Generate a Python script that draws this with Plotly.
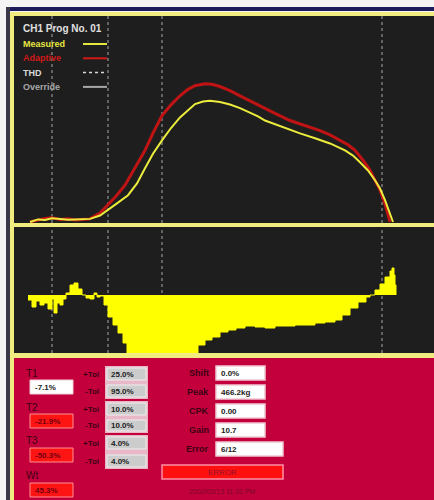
import plotly.graph_objects as go

# Measured force curve (time in ms, force in kg)
measured_t = [17, 25, 32, 39, 47, 55, 62, 69, 77, 87, 95, 105, 115, 124, 132, 140, 149, 158, 167, 175, 182,
              190, 197, 207, 217, 227, 237, 245, 252, 267, 287, 302, 317, 332, 340, 347, 355, 362, 367, 372, 377, 380]
measured_kg = [0, 10, 8, 14, 12, 9, 10, 10, 12, 25, 46, 75, 104, 150, 209, 265, 317, 365, 406, 435, 458,
               468, 471, 466, 456, 442, 425, 410, 394, 372, 344, 325, 305, 278, 258, 232, 200, 162, 130, 85, 35, 0]

# Adaptive reference curve
adaptive_t = [17, 25, 32, 39, 47, 55, 62, 69, 77, 87, 95, 103, 112, 122, 132, 140, 149, 158, 167, 175, 182,
              192, 199, 207, 217, 227, 237, 247, 262, 277, 292, 307, 317, 327, 335, 342, 350, 357, 362, 367, 372, 377]
adaptive_kg = [0, 8, 14, 16, 10, 12, 8, 10, 12, 35, 66, 100, 143, 210, 278, 345, 413, 455, 490, 515, 529,
               537, 535, 526, 510, 490, 470, 452, 422, 394, 374, 355, 338, 317, 300, 278, 240, 201, 165, 124, 70, 0]

# Difference curve (measured - adaptive)
diff_t = [15, 19, 23, 27, 31, 35, 39, 41, 44, 47, 50, 53, 57, 61, 65, 69, 73, 77, 81, 84,
          87, 91, 95, 100, 105, 110, 114, 122, 137, 152, 167, 179, 185, 192, 199, 207, 215, 223, 232, 242,
          252, 262, 272, 282, 292, 302, 312, 322, 329, 337, 345, 353, 357, 362, 367, 372, 377, 379, 381, 382, 383]
diff_val = [-5, -12, -6, -10, -8, -14, -4, -18, -8, -10, -4, 2, 10, 12, 6, 0, -3, -4, 2, -2,
            -1, -10, -22, -30, -38, -48, -58, -70, -80, -80, -75, -60, -50, -45, -42, -37, -35, -33, -31, -32,
            -33, -31, -31, -30, -30, -28, -27, -25, -20, -13, -7, -2, 0, 5, 11, 18, 24, 27, 20, 10, 0]

# Window marker positions (ms)
marker_t = [39, 95, 149, 369]

legend_names = ["Measured", "Adaptive", "THD", "Override"]
legend_colors = ["#e6e640", "#d01818", "#d8d8d8", "#a8a8a8"]
legend_dash = ["solid", "solid", "dot", "solid"]

t_names = ["T1", "T2", "T3", "Wt"]
t_values = ["-7.1%", "-21.9%", "-50.3%", "45.3%"]
t_status = ["ok", "bad", "bad", "bad"]
plus_tol = ["25.0%", "10.0%", "4.0%"]
minus_tol = ["95.0%", "10.0%", "4.0%"]
stat_names = ["Shift", "Peak", "CPK", "Gain", "Error"]
stat_values = ["0.0%", "466.2kg", "0.00", "10.7", "6/12"]
status_text = "ERROR"
timestamp = "2002/02/13 11:02 PM"

W, H = 434, 500
FONT = "Liberation Sans"
DARK = "#1e1e1e"
PANEL_RED = "#c4003c"
FRAME = "#f0ec80"


def fx(p):
    return p / W


def fy(p):
    return 1 - p / H


def rect(x0, y0, x1, y1, fill, line=None, lw=0, layer="below"):
    return dict(type="rect", xref="paper", yref="paper", x0=fx(x0), x1=fx(x1), y0=fy(y1), y1=fy(y0),
                fillcolor=fill, line=dict(color=line or fill, width=lw), layer=layer)


def label(x, y, text, color, size=9, anchor="left", bold=True):
    return dict(xref="paper", yref="paper", x=fx(x), y=fy(y), text=f"<b>{text}</b>" if bold else text,
                showarrow=False, xanchor=anchor, yanchor="middle",
                font=dict(family=FONT, size=size, color=color))


fig = go.Figure()

fig.add_trace(go.Scatter(x=adaptive_t, y=adaptive_kg, mode="lines", line=dict(color="#c01414", width=3),
                         xaxis="x", yaxis="y", hoverinfo="skip"))
fig.add_trace(go.Scatter(x=measured_t, y=measured_kg, mode="lines", line=dict(color="#ecec3c", width=2),
                         xaxis="x", yaxis="y", hoverinfo="skip"))
fig.add_trace(go.Scatter(x=diff_t, y=diff_val, mode="lines", line=dict(color="#ffff00", width=1, shape="hv"),
                         fill="tozeroy", fillcolor="#ffff00", xaxis="x2", yaxis="y2", hoverinfo="skip"))

shapes = [
    rect(6, 7, 434, 11, "#1c1c5c"),
    rect(6, 7, 10, 500, "#383848"),
    rect(14, 16, 434, 353, DARK),
    rect(14, 358, 434, 500, PANEL_RED),
]

# marker lines in both charts
for t in marker_t:
    for ya, y0, y1 in [("y", -4, 800), ("y2", -58, 68)]:
        shapes.append(dict(type="line", xref="x", yref=ya, x0=t, x1=t, y0=y0, y1=y1,
                           line=dict(color="#a8a8a8", width=1, dash="dot"), layer="below"))

# yellow frame
shapes += [
    rect(10, 12, 434, 16, FRAME, layer="above"),
    rect(10, 12, 14, 500, FRAME, layer="above"),
    rect(14, 223, 434, 227, FRAME, layer="above"),
    rect(14, 353, 434, 358, FRAME, layer="above"),
]

annotations = [label(21, 28, "CH1 Prog No. 01", "#e0e0e0", size=10)]
for i, (name, col, dash) in enumerate(zip(legend_names, legend_colors, legend_dash)):
    y = 44 + i * 14.3
    annotations.append(label(21, y, name, col, size=9))
    shapes.append(dict(type="line", xref="paper", yref="paper", x0=fx(83), x1=fx(107), y0=fy(y), y1=fy(y),
                       line=dict(color=col, width=2 if dash == "solid" else 1.5, dash=dash), layer="above"))

# tolerance panel
lab_col = "#3c0014"
t_rows = [(373, 387), (407, 421), (440, 455), (475, 490)]
tol_rows = [(368, 380, 385, 397), (403, 415, 420, 431), (437, 449, 455, 467)]
for i, name in enumerate(t_names):
    ly, by = t_rows[i]
    annotations.append(label(24, ly, name, lab_col, size=10, bold=False))
    if t_status[i] == "ok":
        shapes.append(rect(30, by - 7, 73, by + 7, "#ffffff", "#f0d0d8", 1, layer="above"))
        annotations.append(label(33, by, t_values[i], "#202020", size=8))
    else:
        shapes.append(rect(30, by - 7, 73, by + 7, "#ff1414", "#ff9090", 1, layer="above"))
        annotations.append(label(33, by, t_values[i], "#700010", size=8))
for i in range(3):
    a0, a1, b0, b1 = tol_rows[i]
    shapes.append(rect(105, a0 - 2, 148, b1 + 2, "#e8b8c8", layer="above"))
    shapes.append(rect(107, a0, 146, a1, "#cccccc", "#eeeeee", 1, layer="above"))
    shapes.append(rect(107, b0, 146, b1, "#cccccc", "#eeeeee", 1, layer="above"))
    annotations.append(label(109, (a0 + a1) / 2, plus_tol[i], "#202020", size=8))
    annotations.append(label(109, (b0 + b1) / 2, minus_tol[i], "#202020", size=8))
    annotations.append(label(101, (a0 + a1) / 2, "+Tol", lab_col, size=8, anchor="right"))
    annotations.append(label(101, (b0 + b1) / 2, "-Tol", lab_col, size=8, anchor="right"))

stat_y = [373, 392, 411, 430, 449]
for i, (name, val) in enumerate(zip(stat_names, stat_values)):
    y = stat_y[i]
    right = 283 if i == len(stat_names) - 1 else 265
    shapes.append(rect(216, y - 7, right, y + 7, "#ffffff", "#f0c8d4", 1.5, layer="above"))
    annotations.append(label(211, y, name, lab_col, size=9, anchor="right"))
    annotations.append(label(219, y, val, "#202020", size=8))

shapes.append(rect(162, 465, 283, 479, "#ff1010", "#ff8fa8", 1.5, layer="above"))
annotations.append(label(222, 472, status_text, "#901030", size=8, anchor="center", bold=False))
annotations.append(label(222, 491, timestamp, "#7a0828", size=7, anchor="center", bold=False))

axis_common = dict(visible=False, showgrid=False, zeroline=False, fixedrange=True)
fig.update_layout(
    width=W, height=H,
    margin=dict(l=0, r=0, t=0, b=0),
    paper_bgcolor="#f4f4f4",
    plot_bgcolor="rgba(0,0,0,0)",
    showlegend=False,
    xaxis=dict(domain=[fx(14), 1], range=[1, 421], anchor="y", **axis_common),
    yaxis=dict(domain=[fy(223), fy(16)], range=[-4, 800], anchor="x", **axis_common),
    xaxis2=dict(domain=[fx(14), 1], range=[1, 421], anchor="y2", **axis_common),
    yaxis2=dict(domain=[fy(353), fy(227)], range=[-58, 68], anchor="x2", visible=False, showgrid=False,
                zeroline=True, zerolinecolor="#8a8a7a", zerolinewidth=1.5, fixedrange=True),
    shapes=shapes,
    annotations=annotations,
)

# page margin off so the figure sits at the window corner
fig.write_html("out.html", config={"displayModeBar": False},
               post_script="document.body.style.margin='0';document.body.style.overflow='hidden';")
